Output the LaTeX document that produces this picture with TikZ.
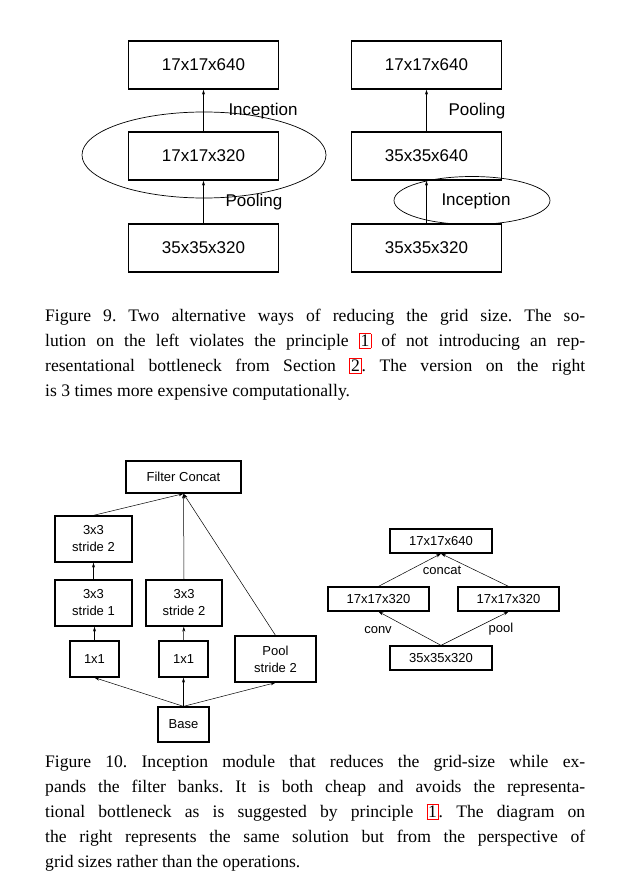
\documentclass[tikz,border=0pt]{standalone}
\usepackage{fontspec}
\setmainfont{Liberation Serif}
\newfontfamily\sansf{Liberation Sans}
\usetikzlibrary{arrows.meta}
\newcommand{\rref}[1]{{\setlength{\fboxsep}{1.2pt}\setlength{\fboxrule}{0.5pt}\color{red}\fbox{\color{black}#1}}}
\begin{document}
\begin{tikzpicture}[x=1pt,y=-1pt,
  big/.style={draw,line width=1.4pt,minimum width=150pt,minimum height=48pt,font=\sansf\fontsize{17}{20}\selectfont},
  sm/.style={draw,line width=1.3pt,align=center,font=\sansf\fontsize{13}{17}\selectfont},
  ar/.style={-{Stealth[length=5pt,width=3pt]},line width=0.5pt},
  lab/.style={font=\sansf\fontsize{17}{20}\selectfont},
  slab/.style={font=\sansf\fontsize{13}{15}\selectfont},
  captxt/.style={anchor=north west,text width=540pt,inner sep=0pt,align=justify,font=\fontsize{17.6}{25}\selectfont\frenchspacing}]
\useasboundingbox (0,0) rectangle (619,888);
% Figure 9 left
\node[big] (a1) at (203.5,65) {17x17x640};
\node[big] (a2) at (203.5,156) {17x17x320};
\node[big] (a3) at (203.5,248) {35x35x320};
\draw[line width=0.7pt] (204,155) ellipse [x radius=122, y radius=43];
\draw[ar] (a2) -- (a1);
\draw[ar] (a3) -- (a2);
\node[lab] (l1) at (263,111) {Inception};
\node[lab] (l2) at (254,202) {Pooling};
% Figure 9 right
\node[big] (b1) at (426.5,65) {17x17x640};
\node[big] (b2) at (426.5,156) {35x35x640};
\node[big] (b3) at (426.5,248) {35x35x320};
\draw[ar] (b2) -- (b1);
\draw[ar] (b3) -- (b2);
\draw[line width=0.7pt] (472,200.5) ellipse [x radius=78, y radius=24];
\node[lab] (l3) at (477,111) {Pooling};
\node[lab] (l4) at (476,201) {Inception};
\node[captxt] (c1) at (45,309) {Figure 9. Two alternative ways of reducing the grid size. The so-\linebreak lution on the left violates the principle \rref{1} of not introducing an rep-\linebreak resentational bottleneck from Section \rref{2}. The version on the right\linebreak is 3 times more expensive computationally.};
% Figure 10 left
\node[sm,minimum width=115pt,minimum height=32pt] (fc) at (183.5,477) {Filter Concat};
\node[sm,minimum width=77pt,minimum height=46pt] (s2a) at (93.5,539) {3x3\\stride 2};
\node[sm,minimum width=77pt,minimum height=46pt] (s1) at (93.5,603) {3x3\\stride 1};
\node[sm,minimum width=76pt,minimum height=46pt] (s2b) at (184,603) {3x3\\stride 2};
\node[sm,minimum width=49pt,minimum height=36pt] (o1) at (94.5,659) {1x1};
\node[sm,minimum width=49pt,minimum height=36pt] (o2) at (183.5,659) {1x1};
\node[sm,minimum width=81pt,minimum height=46pt] (pl) at (275.5,659) {Pool\\stride 2};
\node[sm,minimum width=51pt,minimum height=35pt] (bs) at (183.5,724.5) {Base};
\draw[ar] (s2a.north) -- (fc.south);
\draw[ar] (s2b.north) -- (fc.south);
\draw[ar] (pl.north) -- (fc.south);
\draw[ar] (s1) -- (s2a);
\draw[ar] (o1.north) -- (o1.north|-s1.south);
\draw[ar] (o2) -- (s2b);
\draw[ar] (bs.north) -- (o1.south);
\draw[ar] (bs.north) -- (o2.south);
\draw[ar] (bs.north) -- (pl.south);
% Figure 10 right
\node[sm,minimum width=102pt,minimum height=24pt] (r1) at (441,541) {17x17x640};
\node[sm,minimum width=101pt,minimum height=24pt] (r2) at (378.5,599) {17x17x320};
\node[sm,minimum width=101pt,minimum height=24pt] (r3) at (508.5,599) {17x17x320};
\node[sm,minimum width=102pt,minimum height=24pt] (r4) at (441,658) {35x35x320};
\draw[ar] (r4.north) -- (r2.south);
\draw[ar] (r4.north) -- (r3.south);
\draw[ar] (r2.north) -- (r1.south);
\draw[ar] (r3.north) -- (r1.south);
\node[slab] (l5) at (442,570) {concat};
\node[slab] (l6) at (378,630) {conv};
\node[slab] (l7) at (501,629) {pool};
\node[captxt] (c2) at (45,755) {Figure 10. Inception module that reduces the grid-size while ex-\linebreak pands the filter banks. It is both cheap and avoids the representa-\linebreak tional bottleneck as is suggested by principle \rref{1}. The diagram on\linebreak the right represents the same solution but from the perspective of\linebreak grid sizes rather than the operations.};
\end{tikzpicture}
\end{document}
